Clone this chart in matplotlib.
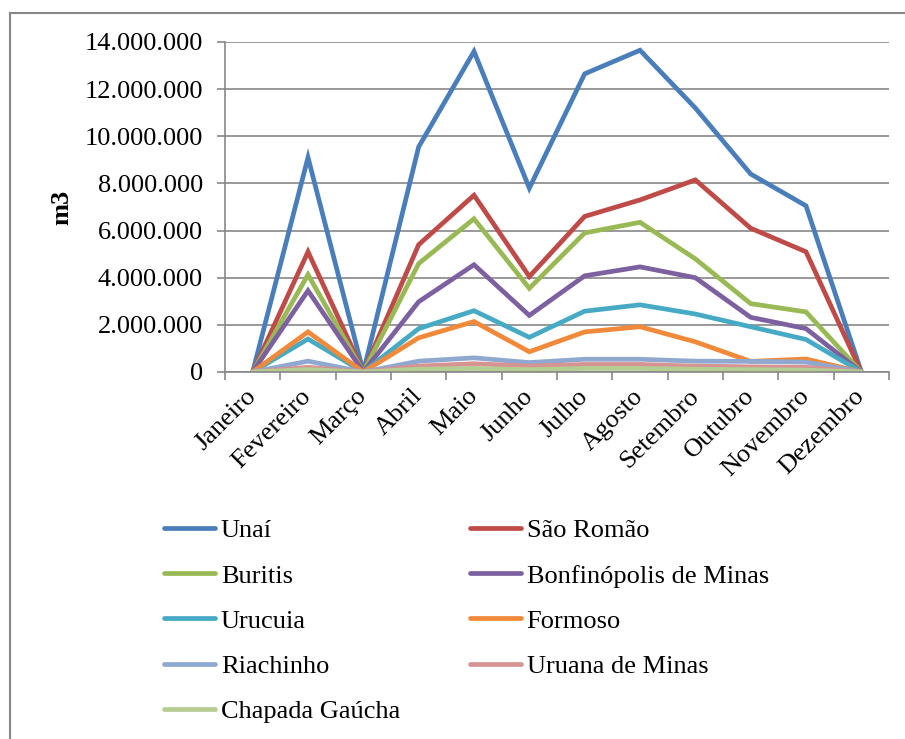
import matplotlib
matplotlib.use('Agg')
import matplotlib.pyplot as plt
from matplotlib.lines import Line2D
from matplotlib.ticker import FuncFormatter, FixedLocator
import numpy as np

meses = ['Janeiro', 'Fevereiro', 'Março', 'Abril', 'Maio', 'Junho', 'Julho',
         'Agosto', 'Setembro', 'Outubro', 'Novembro', 'Dezembro']

# volumes in millions of m3
unai = [0, 9.1, 0, 9.55, 13.6, 7.8, 12.65, 13.65, 11.2, 8.4, 7.05, 0]
sao_romao = [0, 5.1, 0, 5.4, 7.5, 4.05, 6.6, 7.3, 8.15, 6.1, 5.1, 0]
buritis = [0, 4.13, 0, 4.6, 6.5, 3.55, 5.9, 6.35, 4.8, 2.9, 2.55, 0]
bonfinopolis = [0, 3.45, 0, 2.98, 4.55, 2.4, 4.08, 4.46, 4.0, 2.32, 1.84, 0]
urucuia = [0, 1.4, 0, 1.84, 2.6, 1.47, 2.58, 2.85, 2.46, 1.92, 1.38, 0]
formoso = [0, 1.7, 0, 1.45, 2.14, 0.86, 1.7, 1.92, 1.28, 0.45, 0.55, 0]
riachinho = [0, 0.46, 0, 0.46, 0.6, 0.4, 0.54, 0.54, 0.46, 0.45, 0.42, 0]
uruana = [0, 0.2, 0, 0.25, 0.35, 0.25, 0.32, 0.32, 0.25, 0.22, 0.2, 0]
chapada = [0, 0.1, 0, 0.12, 0.15, 0.1, 0.15, 0.15, 0.12, 0.1, 0.08, 0]

municipios = ['Unaí', 'São Romão', 'Buritis', 'Bonfinópolis de Minas', 'Urucuia',
              'Formoso', 'Riachinho', 'Uruana de Minas', 'Chapada Gaúcha']
series = [unai, sao_romao, buritis, bonfinopolis, urucuia,
          formoso, riachinho, uruana, chapada]
cores = ['#4A7EBB', '#BE4B48', '#98B954', '#7D60A0', '#46AAC5',
         '#F08A3A', '#8FA8D0', '#D59391', '#B5CD92']

plt.rcParams['font.family'] = ['Liberation Serif', 'DejaVu Serif']
fs = 19

fig = plt.figure(figsize=(9.05, 7.39), dpi=100)
ax = fig.add_axes([225/905, 1 - 372/739, (889 - 225)/905, (372 - 42)/739])

x = np.arange(len(meses))
handles = []
for nome, vals, cor in zip(municipios, series, cores):
    h, = ax.plot(x, np.array(vals) * 1e6, color=cor, lw=3.4, label=nome,
                 solid_capstyle='round', solid_joinstyle='miter')
    handles.append(h)

ax.set_xlim(-0.5, 11.5)
ax.set_ylim(0, 14e6)
ax.set_yticks(np.arange(0, 14e6 + 1, 2e6))
ax.yaxis.set_major_formatter(FuncFormatter(lambda v, p: f'{int(v):,}'.replace(',', '.')))
ax.yaxis.grid(True, color='#878787', lw=1.2)
ax.set_axisbelow(True)

ax.set_xticks(x)
ax.set_xticklabels(meses, rotation=45, ha='right', va='center', rotation_mode='anchor')
ax.xaxis.set_minor_locator(FixedLocator(np.arange(-0.5, 12, 1)))
ax.tick_params(axis='x', which='major', length=0, pad=15, labelsize=fs)
ax.tick_params(axis='x', which='minor', length=6, width=1.2, color='#878787')
ax.tick_params(axis='y', length=6, width=1.2, color='#878787', pad=10, labelsize=fs)

for s in ['top', 'right']:
    ax.spines[s].set_visible(False)
for s in ['left', 'bottom']:
    ax.spines[s].set_color('#878787')
    ax.spines[s].set_linewidth(1.2)

ax.set_ylabel('m3', fontsize=fs, fontweight='bold')
ax.yaxis.set_label_coords(-0.229, 0.5)

# legend in two columns, filled row by row
ordem = [0, 2, 4, 6, 8, 1, 3, 5, 7]
fig.legend([handles[i] for i in ordem], [municipios[i] for i in ordem],
           ncol=2, loc='upper left', bbox_to_anchor=(164/905, 1 - 519/739),
           frameon=False, prop={'family': 'Liberation Serif', 'size': fs},
           handlelength=1.95, handletextpad=0.2,
           columnspacing=2.65, labelspacing=0.82, borderpad=0, borderaxespad=0)

# outer chart border (only top and left visible)
fig.add_artist(Line2D([10/905, 10/905], [0, 1 - 13/739], color='#878787', lw=1.5))
fig.add_artist(Line2D([10/905, 1], [1 - 13/739, 1 - 13/739], color='#878787', lw=1.5))

fig.savefig('out.png', dpi=100)
